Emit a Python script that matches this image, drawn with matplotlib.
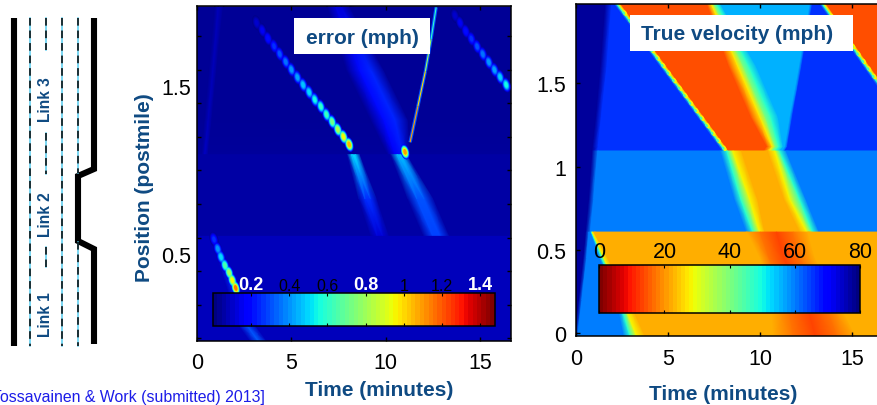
import numpy as np
import matplotlib
matplotlib.use('Agg')
import matplotlib.pyplot as plt
from matplotlib.cm import ScalarMappable
from matplotlib.collections import LineCollection
from matplotlib.colors import Normalize
from matplotlib.markers import MarkerStyle
from matplotlib.transforms import Affine2D

plt.rcParams['font.family'] = ['Liberation Sans', 'DejaVu Sans']

W, H = 878, 406
BLUE = '#0f4a82'

# ---- road sketch (pixel positions of the schematic)
edge_left_x, edge_left_y = [14, 14], [19, 347]
edge_right_x = [94, 94, 78, 78, 94, 94]
edge_right_y = [19, 170, 177, 242, 250, 345]
lane_a_y = [[19, 347]]
lane_b_y = [[19, 51], [134, 175], [248, 268]]
lane_c_y = [[19, 174], [243, 347]]
lanes = [(30, lane_a_y), (46, lane_b_y), (62, lane_a_y), (78, lane_c_y)]
link_names = ['Link 3', 'Link 2', 'Link 1']
link_y = [100, 215, 315]

# ---- true velocity (mph): rows are positions, columns follow the wave fronts
vel_top_x = [1.093, 1.12, 1.3, 1.6, 1.974]
vel_top_v = [78, 78, 66, 66, 48, 28, 14, 14, 27, 40, 48, 56, 56, 66, 66, 48, 28, 14, 14]
vel_top_t = [
    [-1, .9, 1.2, 7.95, 8.10, 8.20, 8.32, 10.2, 10.5, 10.68, 10.86, 11.1, 11.2, 11.35, 18.84, 18.99, 19.09, 19.21, 30],
    [-1, .92, 1.22, 7.78, 7.93, 8.03, 8.15, 10.37, 10.67, 10.85, 11.03, 11.27, 11.35, 11.5, 18.68, 18.83, 18.93, 19.05, 30],
    [-1, 1.1, 1.4, 6.59, 6.74, 6.84, 6.96, 9.49, 9.99, 10.29, 10.59, 10.99, 11.62, 11.77, 17.52, 17.67, 17.77, 17.89, 30],
    [-1, 1.35, 1.7, 4.58, 4.73, 4.83, 4.95, 8.31, 8.81, 9.11, 9.41, 9.81, 12.12, 12.27, 15.61, 15.76, 15.86, 15.98, 30],
    [-1, 1.6, 1.95, 2.09, 2.24, 2.34, 2.46, 7.12, 7.37, 7.52, 7.67, 7.87, 12.7, 12.85, 13.24, 13.39, 13.49, 13.61, 30],
]
vel_mid_x = [0.607, 0.804, 1.093]
vel_mid_v = [78, 78, 60, 60, 48, 28, 22, 22, 28, 48, 60, 60]
vel_mid_t = [
    [-1, .55, .8, 9.26, 9.61, 9.99, 10.27, 12.16, 12.54, 12.87, 13.22, 30],
    [-1, .72, .98, 8.61, 8.96, 9.45, 9.88, 11.3, 11.62, 12.16, 12.5, 30],
    [-1, .9, 1.2, 7.85, 8.2, 8.53, 9.01, 10.42, 10.8, 11.08, 11.43, 30],
]
vel_low_x = [-0.014, 0.2, 0.45, 0.607]
vel_low_v = [78, 78, 60, 60, 48, 28, 22, 22, 17, 13, 17, 22, 22]
vel_low_t = [
    [-1, -.05, .12, 2.6, 2.94, 3.3, 3.76, 10.7, 11.8, 13.0, 14.2, 15.2, 30],
    [-1, .17, .34, 2.2, 2.38, 2.55, 2.9, 10.6, 11.5, 12.5, 13.5, 14.2, 30],
    [-1, .42, .6, 1.3, 1.42, 1.54, 1.75, 10.0, 10.5, 11.3, 12.2, 13.0, 30],
    [-1, .55, .72, .8, .86, .9, 1.0, 9.3, 10.0, 10.9, 11.8, 12.6, 30],
]
# saw-tooth notches along the jam fronts
notch_t = [2.67, 2.97, 3.27, 3.57, 3.87, 4.17, 4.46, 4.76, 5.06, 5.36, 5.66, 5.96, 6.26, 6.56, 6.86, 7.16, 7.46, 7.76, 8.06,
           13.9, 14.19, 14.48, 14.77, 15.06, 15.35, 15.64, 15.92, 16.2]
notch_x = [1.92, 1.875, 1.83, 1.785, 1.74, 1.695, 1.65, 1.605, 1.56, 1.515, 1.47, 1.425, 1.38, 1.335, 1.29, 1.245, 1.2, 1.155, 1.11,
           1.9, 1.855, 1.81, 1.765, 1.72, 1.675, 1.63, 1.585, 1.54]

# ---- error (mph)
err_top_x = [1.093, 1.3, 1.6, 1.974]
err_top_t = [
    [-1, .25, .42, .6, 10.1, 10.5, 10.9, 11.3, 30],
    [-1, .4, .6, .8, 9.2, 9.9, 10.5, 11.2, 30],
    [-1, .65, .85, 1.05, 7.9, 8.6, 9.2, 9.9, 30],
    [-1, .95, 1.13, 1.4, 6.9, 7.35, 7.65, 8.1, 30],
]
err_top_v = [
    [.04, .04, .09, .04, .04, .16, .22, .04, .04],
    [.03, .03, .08, .03, .03, .2, .24, .03, .03],
    [.03, .03, .08, .03, .03, .2, .24, .03, .03],
    [.03, .03, .08, .03, .03, .12, .12, .03, .03],
]
err_mid_x = [0.607, 0.83, 1.093]
err_mid_t = [
    [-1, 9.2, 9.55, 9.85, 10.2, 12.0, 12.5, 12.9, 13.4, 30],
    [-1, 8.55, 8.9, 9.2, 9.55, 11.15, 11.65, 12.05, 12.55, 30],
    [-1, 7.95, 8.2, 8.4, 8.65, 10.25, 10.6, 10.85, 11.15, 30],
]
err_mid_v = [
    [.05, .05, .11, .11, .05, .05, .28, .28, .05, .05],
    [.05, .05, .25, .25, .05, .05, .3, .3, .05, .05],
    [.05, .05, .5, .5, .05, .05, .45, .45, .05, .05],
]
err_low_x = [-0.014, 0.067, 0.607]
err_low_t = [
    [-1, 2.8, 3.25, 3.7, 30],
    [-1, 2.27, 2.72, 3.17, 30],
    [-1, .7, .85, 1.0, 30],
]
err_low_v = [
    [.08, .08, .32, .08, .08],
    [.08, .08, .3, .08, .08],
    [.08, .08, .15, .08, .08],
]
blob_t = [3.16, 3.46, 3.76, 4.08, 4.38, 4.70, 5.0, 5.32, 5.62, 5.94, 6.24, 6.56, 6.86, 7.16, 7.46, 7.76, 8.06,
          13.67, 13.94, 14.24, 14.54, 14.84, 15.14, 15.46, 15.76, 16.06, 16.38,
          .90, 1.10, 1.27, 1.48, 1.70, 1.87, 2.05, 11.02]
blob_x = [1.878, 1.833, 1.785, 1.739, 1.693, 1.646, 1.600, 1.554, 1.509, 1.465, 1.421, 1.380, 1.332, 1.289, 1.243, 1.200, 1.154,
          1.921, 1.878, 1.828, 1.783, 1.737, 1.692, 1.644, 1.598, 1.555, 1.509,
          0.589, 0.533, 0.484, 0.434, 0.391, 0.345, 0.300, 1.110]
blob_v = [.1, .15, .2, .25, .3, .35, .4, .42, .47, .5, .55, .6, .62, .72, .82, .95, 1.05,
          .1, .15, .2, .25, .3, .35, .4, .42, .48, .55,
          .25, .4, .5, .65, .8, .95, 1.15, 1.1]
streak_t = [11.29, 11.7, 12.1, 12.4, 12.67]
streak_x = [1.167, 1.38, 1.59, 1.78, 1.97]
streak_v = [1.1, 1.0, .8, .6]

err_ticks = [.2, .4, .6, .8, 1, 1.2, 1.4]
err_tick_labels = ['0.2', '0.4', '0.6', '0.8', '1', '1.2', '1.4']
err_bold = ['0.2', '0.8', '1.4']
vel_ticks = [0, 20, 40, 60, 80]


def box(x0, y0, x1, y1):
    # pixel box (top-left origin) -> figure fraction rect
    return [x0 / W, 1 - y1 / H, (x1 - x0) / W, (y1 - y0) / H]


def draw_mesh(ax, rows, times, vals, cmap, norm):
    times = np.array(times, dtype=float)
    vals = np.array(vals, dtype=float)
    if vals.ndim == 1:
        vals = np.tile(vals[:times.shape[1]], (times.shape[0], 1))
    yy = np.tile(np.array(rows)[:, None], (1, times.shape[1]))
    ax.pcolormesh(times, yy, vals, shading='gouraud', cmap=cmap, norm=norm)


fig = plt.figure(figsize=[W / 100, H / 100], dpi=100)

# error panel
ax1 = fig.add_axes(box(197, 7, 510.7, 341.7))
err_cmap = plt.get_cmap('jet', 256)
err_norm = Normalize(0, 1.476)
draw_mesh(ax1, err_top_x, err_top_t, err_top_v, err_cmap, err_norm)
draw_mesh(ax1, err_mid_x, err_mid_t, err_mid_v, err_cmap, err_norm)
draw_mesh(ax1, err_low_x, err_low_t, err_low_v, err_cmap, err_norm)
blob_m = MarkerStyle('o', transform=Affine2D().scale(.55, 1).rotate_deg(15))
for k, f in zip([1, .8, .6, .42, .28, .15], [.15, .3, .5, .7, .85, 1]):
    ax1.scatter(blob_t, blob_x, s=125 * k, c=np.array(blob_v) * f, cmap=err_cmap, norm=err_norm,
                marker=blob_m, linewidths=0, zorder=3)
pts = np.column_stack([streak_t, streak_x])
segs = np.stack([pts[:-1], pts[1:]], axis=1)
ax1.add_collection(LineCollection(segs, colors=[err_cmap(err_norm(.3))], linewidths=2.4, zorder=4))
ax1.add_collection(LineCollection(segs, array=np.array(streak_v), cmap=err_cmap, norm=err_norm, linewidths=.8, zorder=5))
ax1.set_xlim(0, 16.62)
ax1.set_ylim(-0.014, 1.978)
ax1.set_xticks([0, 5, 10, 15])
ax1.set_yticks(np.arange(0, 1.9, .2))
ax1.set_yticklabels([])
ax1.set_yticks([0, .5, 1, 1.5], labels=['0', '0.5', '1', '1.5'], minor=True)
ax1.tick_params(axis='both', which='major', direction='in', length=3, width=1, top=True, right=True, labelsize=15.5)
ax1.tick_params(axis='y', which='minor', length=0, labelsize=15.5, pad=4)
ax1.tick_params(axis='x', pad=8)

# velocity panel
ax2 = fig.add_axes(box(575.7, 5, 882, 336.7))
vel_cmap = plt.get_cmap('jet_r', 256)
vel_norm = Normalize(0, 80)
draw_mesh(ax2, vel_top_x, vel_top_t, vel_top_v, vel_cmap, vel_norm)
draw_mesh(ax2, vel_mid_x, vel_mid_t, vel_mid_v, vel_cmap, vel_norm)
draw_mesh(ax2, vel_low_x, vel_low_t, vel_low_v, vel_cmap, vel_norm)
notch_m = MarkerStyle('o', transform=Affine2D().scale(.6, 1).rotate_deg(30))
ax2.scatter(notch_t, notch_x, s=20, c=[28] * len(notch_t), cmap=vel_cmap, norm=vel_norm, marker=notch_m, linewidths=0, zorder=3)
ax2.scatter(np.array(notch_t) - .06, notch_x, s=7, c=[46] * len(notch_t), cmap=vel_cmap, norm=vel_norm, marker=notch_m, linewidths=0, zorder=3)
ax2.set_xlim(0, 16.62)
ax2.set_ylim(-0.014, 1.974)
ax2.set_xticks([0, 5, 10, 15])
ax2.set_yticks([0, .5, 1, 1.5], labels=['0', '0.5', '1', '1.5'])
ax2.tick_params(axis='both', direction='in', length=3, width=1, top=True, right=True, labelsize=15.5)
ax2.tick_params(axis='y', pad=7)
ax2.tick_params(axis='x', pad=8.5)

for a in (ax1, ax2):
    for s in a.spines.values():
        s.set_linewidth(1.1)

# overlay in pixel coordinates: sketch, labels, white boxes
ov = fig.add_axes([0, 0, 1, 1], zorder=5)
ov.set_xlim(0, W)
ov.set_ylim(H, 0)
ov.axis('off')
ov.plot(edge_left_x, edge_left_y, color='k', lw=4.4, solid_capstyle='butt')
ov.plot(edge_right_x, edge_right_y, color='k', lw=4.4, solid_capstyle='butt', solid_joinstyle='miter')
for lx, spans in lanes:
    for y0, y1 in spans:
        ov.plot([lx, lx], [y0, y1], color='#56cdf0', lw=1.1)
        ov.plot([lx, lx], [y0, y1], color='k', lw=1.1, dashes=(5, 3.2))
for name, ly in zip(link_names, link_y):
    ov.text(46, ly, name, rotation=90, color=BLUE, fontweight='bold', fontsize=11.2, ha='center', va='center')
ov.text(145, 188, 'Position (postmile)', rotation=90, color=BLUE, fontweight='bold', fontsize=15, ha='center', va='center')
ov.text(379, 391, 'Time (minutes)', color=BLUE, fontweight='bold', fontsize=15, ha='center', va='center')
ov.text(723, 395, 'Time (minutes)', color=BLUE, fontweight='bold', fontsize=15, ha='center', va='center')
ov.text(265, 398, 'Tossavainen & Work (submitted) 2013]', color='#1c1ce8', fontsize=11.4, ha='right', va='center')
ov.fill([294, 430, 430, 294], [19, 19, 55, 55], color='white', lw=0)
ov.text(362, 39, 'error (mph)', color=BLUE, fontweight='bold', fontsize=15, ha='center', va='center')
ov.fill([630, 852.7, 852.7, 630], [16, 16, 51.7, 51.7], color='white', lw=0)
ov.text(737, 35, 'True velocity (mph)', color=BLUE, fontweight='bold', fontsize=15, ha='center', va='center')

# colorbars
cax1 = fig.add_axes(box(212.7, 294.3, 494.7, 327), zorder=6)
cb1 = fig.colorbar(ScalarMappable(err_norm, plt.get_cmap('jet', 64)), cax=cax1, orientation='horizontal', ticklocation='top')
cb1.set_ticks(err_ticks, labels=err_tick_labels)
cax1.tick_params(direction='in', length=2, width=.8, top=True, bottom=True, pad=0, labelsize=11.5)
for lab in cax1.get_xticklabels():
    if lab.get_text() in err_bold:
        lab.set_color('white')
        lab.set_fontweight('bold')
        lab.set_fontsize(13)
cb1.outline.set_linewidth(1.1)

cax2 = fig.add_axes(box(599.3, 266, 860, 314), zorder=6)
cb2 = fig.colorbar(ScalarMappable(vel_norm, plt.get_cmap('jet_r', 64)), cax=cax2, orientation='horizontal', ticklocation='top')
cb2.set_ticks(vel_ticks)
cax2.tick_params(direction='in', length=2, width=.8, top=True, bottom=True, pad=2, labelsize=15.5)
cb2.outline.set_linewidth(1.1)

fig.savefig('out.png', dpi=100)
